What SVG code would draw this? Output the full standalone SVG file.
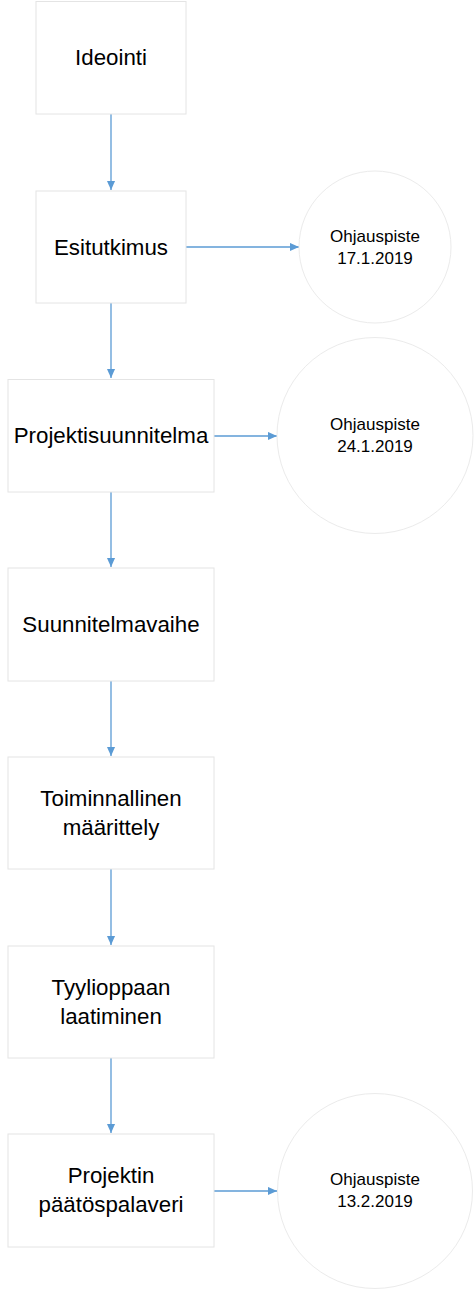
<svg xmlns="http://www.w3.org/2000/svg" width="474" height="1290" viewBox="0 0 474 1290">
<style>
.box{fill:#fff;stroke:#e4e4e4;stroke-width:1}
.circ{fill:#fff;stroke:#ebebeb;stroke-width:1}
.t{font-family:"Liberation Sans",Arial,sans-serif;font-size:22.3px;fill:#000;text-anchor:middle}
.c{font-family:"Liberation Sans",Arial,sans-serif;font-size:17px;fill:#000;text-anchor:middle}
.edge{stroke:#5b9bd5;stroke-width:1.3;fill:none;marker-end:url(#ah)}
</style>
<defs>
<marker id="ah" viewBox="0 0 10 10" refX="10" refY="5" markerWidth="9" markerHeight="9" markerUnits="userSpaceOnUse" orient="auto">
<path d="M0,0.5 L10,5 L0,9.5 Z" fill="#5b9bd5"/>
</marker>
</defs>
<rect width="474" height="1290" fill="#fff"/>
<g id="connectors">
<line class="edge" x1="111" y1="114" x2="111" y2="190"/>
<line class="edge" x1="111" y1="303" x2="111" y2="378"/>
<line class="edge" x1="111" y1="492" x2="111" y2="567"/>
<line class="edge" x1="111" y1="681" x2="111" y2="756"/>
<line class="edge" x1="111" y1="869" x2="111" y2="945"/>
<line class="edge" x1="111" y1="1058" x2="111" y2="1133"/>
<line class="edge" x1="186" y1="247" x2="299" y2="247"/>
<line class="edge" x1="214" y1="436" x2="277" y2="436"/>
<line class="edge" x1="214" y1="1191" x2="277" y2="1191"/>
</g>
<g id="ideointi"><rect class="box" x="36" y="1.5" width="150" height="112.5"/><text class="t" x="111" y="65">Ideointi</text></g>
<g id="esitutkimus"><rect class="box" x="36" y="191" width="150" height="112"/><text class="t" x="111" y="255">Esitutkimus</text></g>
<g id="projektisuunnitelma"><rect class="box" x="8" y="379.5" width="206" height="112.5"/><text class="t" x="111" y="443">Projektisuunnitelma</text></g>
<g id="suunnitelmavaihe"><rect class="box" x="8" y="568" width="206" height="113"/><text class="t" x="111" y="632">Suunnitelmavaihe</text></g>
<g id="maarittely"><rect class="box" x="8" y="757" width="206" height="112"/><text class="t" x="111" y="806">Toiminnallinen</text><text class="t" x="111" y="835">määrittely</text></g>
<g id="tyyliopas"><rect class="box" x="8" y="946" width="206" height="112"/><text class="t" x="111" y="995">Tyylioppaan</text><text class="t" x="111" y="1024">laatiminen</text></g>
<g id="paatospalaveri"><rect class="box" x="8" y="1134" width="206" height="113"/><text class="t" x="111" y="1183">Projektin</text><text class="t" x="111" y="1212">päätöspalaveri</text></g>
<g id="ohjaus1"><circle class="circ" cx="375" cy="247" r="76"/><text class="c" x="375" y="242">Ohjauspiste</text><text class="c" x="375" y="264">17.1.2019</text></g>
<g id="ohjaus2"><circle class="circ" cx="375" cy="435.5" r="98"/><text class="c" x="375" y="430">Ohjauspiste</text><text class="c" x="375" y="452">24.1.2019</text></g>
<g id="ohjaus3"><circle class="circ" cx="375" cy="1191" r="97.5"/><text class="c" x="375" y="1185">Ohjauspiste</text><text class="c" x="375" y="1207">13.2.2019</text></g>
</svg>
